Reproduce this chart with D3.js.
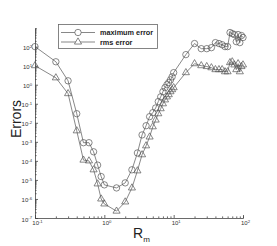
<!DOCTYPE html>
<meta charset="utf-8">
<style>
body { margin: 0; background: #fff; }
text { font-family: "Liberation Sans", Arial, sans-serif; }
.axis path, .axis line { stroke: #444; stroke-width: 0.8px; }
.axis text { fill: #333; font-size: 6px; }
</style>
<svg width="277" height="246"></svg>
<script src="https://cdn.jsdelivr.net/npm/d3@7"></script>
<script>

var rm = [0.1, 0.2, 0.3, 0.4, 0.5, 0.6, 0.7, 0.8, 0.9, 1, 1.5, 2, 2.5, 3, 3.5, 4, 4.5, 5, 5.5, 6,
          6.5, 7, 7.5, 8, 8.5, 9, 9.5, 10, 15, 20, 25, 30, 35, 40, 45, 50, 55, 60, 65, 70,
          75, 80, 85, 90, 95, 100];

var maxError = [100, 16, 1.6, 3e-2, 9e-4, 9e-4, 3e-4, 6e-5, 1.5e-5, 5.5e-6, 3.8e-6, 7e-6, 3.4e-5, 2.6e-4, 2.3e-3, 7e-3, 2.1e-2, 3.4e-2, 6e-2, 0.13,
                0.23, 0.43, 0.7, 1.0, 1.3, 1.8, 2.6, 4.3, 38, 145, 78, 78, 88, 162, 145, 126, 100, 100, 550, 480,
                430, 182, 430, 162, 380, 300];

var rmsError = [10, 2.3, 0.34, 3.8e-3, 1.1e-4, 1e-4, 3.4e-5, 6.2e-6, 1e-6, 5.5e-7, 2.3e-7, 7e-7, 3.8e-6, 3e-5, 2.1e-4, 6.2e-4, 1.8e-3, 6.2e-3, 1.4e-2, 3e-2,
                5.5e-2, 0.1, 0.16, 0.23, 0.3, 0.43, 0.55, 0.7, 4.3, 12.7, 10, 9, 7.8, 6.2, 6.2, 6.2, 4.8, 4.8, 14.5, 16,
                11, 6.2, 12.7, 4.8, 9, 11];

var seriesNames = ["maximum error", "rms error"];
var xTicks = [0.1, 1, 10, 100];
var yTicks = [1e-7, 1e-6, 1e-5, 1e-4, 1e-3, 1e-2, 1e-1, 1, 10, 100];

var svg = d3.select("svg"),
    margin = {left: 35, right: 34, top: 28, bottom: 28},
    width = +svg.attr("width"),
    height = +svg.attr("height");

var x = d3.scaleLog().domain([0.1, 100]).range([margin.left, width - margin.right]);
var y = d3.scaleLog().domain([1e-7, 9.5e2]).range([height - margin.bottom, margin.top]);

function minors(lo, hi) {
  var out = [];
  for (var e = lo; e < hi; e++)
    for (var k = 2; k <= 9; k++) out.push(k * Math.pow(10, e));
  return out;
}

function expOf(v) { return Math.round(Math.log10(v)); }

function powLabel(sel) {
  sel.each(function(d) {
    var t = d3.select(this).text("");
    t.append("tspan").text("10");
    t.append("tspan").attr("dy", "-2.5").style("font-size", "4.2px").text(expOf(d));
  });
}

// x axis
var gx = svg.append("g").attr("class", "axis")
    .attr("transform", "translate(0," + y.range()[0] + ")");
gx.call(d3.axisBottom(x).tickValues(minors(-1, 2)).tickSize(-1.6).tickFormat(""));
gx.append("g").call(d3.axisBottom(x).tickValues(xTicks).tickSize(-3).tickSizeOuter(0).tickPadding(3))
  .attr("class", "axis")
  .call(function(g) { g.select(".domain").remove(); })
  .selectAll("text").attr("dx", "2").call(powLabel);

// y axis
var gy = svg.append("g").attr("class", "axis")
    .attr("transform", "translate(" + x.range()[0] + ",0)");
gy.call(d3.axisLeft(y).tickValues(minors(-7, 3).filter(function(v) { return v < 9.5e2; })).tickSize(-1.6).tickFormat(""));
gy.append("g").call(d3.axisLeft(y).tickValues(yTicks).tickSize(-3).tickSizeOuter(0).tickPadding(3))
  .attr("class", "axis")
  .call(function(g) { g.select(".domain").remove(); })
  .selectAll("text").attr("dy", "0.5em").call(powLabel);

// axis titles
svg.append("text")
    .attr("transform", "translate(21,119) rotate(-90)")
    .attr("text-anchor", "middle")
    .style("font-size", "14px").style("fill", "#222")
    .text("Errors");

var xt = svg.append("text")
    .attr("x", 133).attr("y", 238)
    .style("font-size", "14px").style("fill", "#222");
xt.append("tspan").text("R");
xt.append("tspan").attr("dy", "4").style("font-size", "8px").text("m");

// series
var line = d3.line()
    .x(function(d) { return x(d[0]); })
    .y(function(d) { return y(d[1]); });

var series = [maxError, rmsError].map(function(vals) {
  return rm.map(function(r, i) { return [r, vals[i]]; });
});

var symbols = [d3.symbol().type(d3.symbolCircle).size(32),
               d3.symbol().type(d3.symbolTriangle).size(22)];

series.forEach(function(pts, s) {
  svg.append("path")
      .datum(pts)
      .attr("d", line)
      .attr("fill", "none")
      .attr("stroke", "#555")
      .attr("stroke-width", 0.7);
  svg.selectAll(".m" + s)
    .data(pts)
    .enter().append("path")
      .attr("class", "m" + s)
      .attr("transform", function(d) { return "translate(" + x(d[0]) + "," + y(d[1]) + ")"; })
      .attr("d", symbols[s])
      .attr("fill", "none")
      .attr("stroke", "#555")
      .attr("stroke-width", 0.7);
});

// legend
var legend = svg.append("g");
legend.append("rect")
    .attr("x", 58.5).attr("y", 24.5).attr("width", 99).attr("height", 24)
    .attr("fill", "#fff").attr("stroke", "#666").attr("stroke-width", 0.8);

seriesNames.forEach(function(name, i) {
  var ly = 32.5 + i * 9.5;
  legend.append("line")
      .attr("x1", 61).attr("x2", 95).attr("y1", ly).attr("y2", ly)
      .attr("stroke", "#555").attr("stroke-width", 0.7);
  legend.append("path")
      .attr("transform", "translate(78," + ly + ")")
      .attr("d", symbols[i])
      .attr("fill", "#fff").attr("stroke", "#555").attr("stroke-width", 0.7);
  legend.append("text")
      .attr("x", 100).attr("y", ly + 2.5)
      .style("font-size", "7.3px").style("font-weight", "bold").style("fill", "#222")
      .text(name);
});

</script>
